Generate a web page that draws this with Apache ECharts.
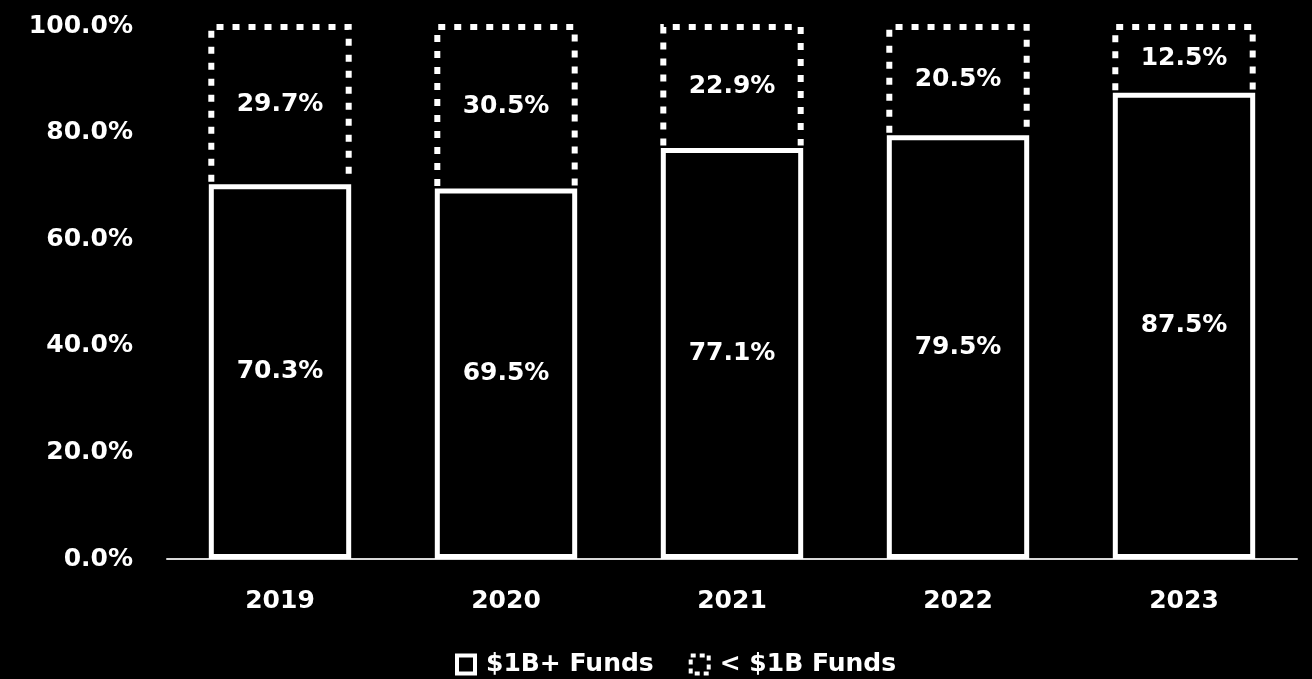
<!DOCTYPE html>
<html>
<head>
<meta charset="utf-8">
<script src="https://cdn.jsdelivr.net/npm/echarts@6/dist/echarts.min.js"></script>
<style>
html,body{margin:0;padding:0;background:#000;}
#c{width:1312px;height:679px;}
</style>
</head>
<body>
<div id="c"></div>
<script>
const categories = ['2019', '2020', '2021', '2022', '2023'];
const bigFunds = [70.3, 69.5, 77.1, 79.5, 87.5];
const smallFunds = [29.7, 30.5, 22.9, 20.5, 12.5];
const seriesNames = ['$1B+ Funds', '< $1B Funds'];
const yTicks = [0, 20, 40, 60, 80, 100];

const FONT = 'DejaVu Sans';
const FS = 25;
const BAR_RATIO = 0.63;

const smallData = categories.map((c, i) => [i, bigFunds[i], bigFunds[i] + smallFunds[i], smallFunds[i]]);

const chart = echarts.init(document.getElementById('c'));
chart.setOption({
  backgroundColor: '#000',
  animation: false,
  textStyle: { fontFamily: FONT },
  grid: { left: 167, right: 15, top: 26, bottom: 120 },
  legend: {
    top: 652,
    left: 455,
    padding: 0,
    itemWidth: 18,
    itemHeight: 18,
    itemGap: 35,
    textStyle: { color: '#fff', fontSize: FS, fontWeight: 'bold', fontFamily: FONT, padding: [0, 0, 0, 6] },
    data: [
      { name: seriesNames[0], icon: 'rect', itemStyle: { color: '#000', borderColor: '#fff', borderWidth: 4 } },
      { name: seriesNames[1], icon: 'rect', itemStyle: { color: '#000', borderColor: '#fff', borderWidth: 4, borderType: [5, 4] } }
    ]
  },
  xAxis: {
    type: 'category',
    data: categories,
    axisLine: { show: true, lineStyle: { color: '#d9d9d9', width: 2 } },
    axisTick: { show: false },
    axisLabel: { color: '#fff', fontSize: FS, fontWeight: 'bold', margin: 30, fontFamily: FONT }
  },
  yAxis: {
    type: 'value',
    min: 0,
    max: 100,
    interval: 20,
    splitLine: { show: false },
    axisLine: { show: false },
    axisTick: { show: false },
    axisLabel: {
      color: '#fff', fontSize: FS, fontWeight: 'bold', margin: 34, fontFamily: FONT,
      formatter: v => yTicks.includes(v) ? v.toFixed(1) + '%' : ''
    }
  },
  series: [
    {
      name: seriesNames[0],
      type: 'bar',
      barWidth: (BAR_RATIO * 100) + '%',
      data: bigFunds,
      itemStyle: { color: '#000', borderColor: '#fff', borderWidth: 5 },
      label: {
        show: true, position: 'inside', color: '#fff', fontSize: FS, fontWeight: 'bold', fontFamily: FONT,
        formatter: p => p.value.toFixed(1) + '%'
      },
      z: 3
    },
    {
      name: seriesNames[1],
      type: 'custom',
      data: smallData,
      encode: { x: 0, y: 2 },
      z: 2,
      renderItem: function (params, api) {
        const i = api.value(0);
        const lo = api.coord([i, api.value(1)]);
        const hi = api.coord([i, api.value(2)]);
        const w = api.size([1, 0])[0] * BAR_RATIO;
        const xl = lo[0] - w / 2 + 2.5;
        const xr = lo[0] + w / 2 - 2.5;
        const yb = lo[1] - 2.5;
        const yt = hi[1] + 1;
        return {
          type: 'group',
          children: [
            {
              type: 'polyline',
              shape: { points: [[xl, yb], [xl, yt], [xr, yt], [xr, yb]] },
              style: { stroke: '#fff', lineWidth: 6, lineDash: [7, 9], fill: null }
            },
            {
              type: 'text',
              style: {
                text: api.value(3).toFixed(1) + '%',
                x: lo[0], y: (yb + yt) / 2,
                align: 'center', verticalAlign: 'middle',
                fill: '#fff', font: 'bold ' + FS + 'px "' + FONT + '"'
              }
            }
          ]
        };
      }
    }
  ]
});
</script>
</body>
</html>
